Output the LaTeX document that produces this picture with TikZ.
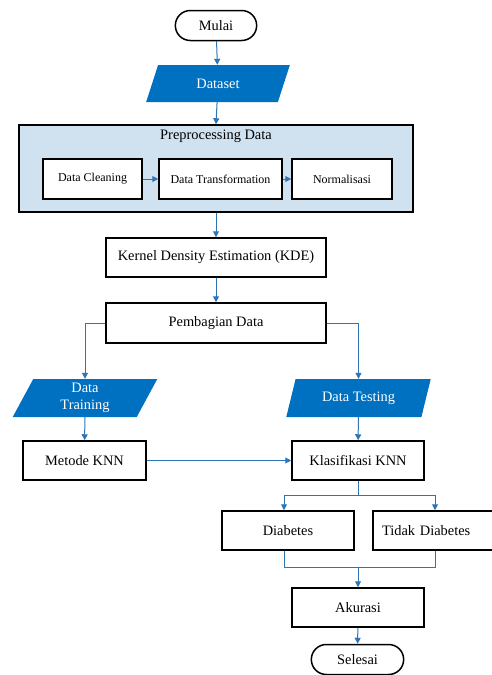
\documentclass[tikz,border=0pt]{standalone}
\usepackage{fontspec}
\setmainfont{Liberation Serif}
\usepackage{tikz}
\usetikzlibrary{arrows.meta,positioning,shapes.geometric,shapes.misc}

\definecolor{flowblue}{RGB}{0,112,192}
\definecolor{lineblue}{RGB}{46,117,182}
\definecolor{prepfill}{RGB}{208,226,240}

\tikzset{
  procbox/.style={draw=black, line width=1.5pt, fill=white, minimum height=39pt, inner sep=2pt},
  subbox/.style={procbox, minimum height=40pt, font=\fontsize{12}{14}\selectfont},
  termbox/.style={draw=black, line width=1.5pt, fill=white, rounded rectangle, minimum height=30pt},
  iobox/.style={trapezium, trapezium left angle=73, trapezium right angle=107, trapezium stretches=true,
    fill=flowblue, text=white, minimum height=38pt, minimum width=145pt, align=center},
  flow/.style={draw=lineblue, line width=1pt, -{Triangle[length=6pt,width=6pt]}},
  joinline/.style={draw=lineblue, line width=1pt}
}

\begin{document}
\begin{tikzpicture}[x=1pt,y=-1pt,font=\fontsize{14.4}{17}\selectfont]
\useasboundingbox (0,0) rectangle (492,675);

% start and input
\node[termbox, minimum width=88pt] (mulai) at (216,25.5) {Mulai};
\node[iobox, minimum width=144pt, minimum height=37pt] (dataset) at (218,83.5) {Dataset};

% preprocessing group
\node[draw=black, line width=1.5pt, fill=prepfill, minimum width=394pt, minimum height=87pt] (prep) at (216,168.5) {};
\node (preptitle) at (216,136) {Preprocessing Data};
\node[subbox, minimum width=99pt] (clean) at (92.5,179) {Data Cleaning};
\node[subbox, minimum width=123pt] (trans) at (220.5,179) {Data Transformation};
\node[subbox, minimum width=100pt] (norm) at (342,179) {Normalisasi};

\node[procbox, minimum width=220pt] (kde) at (216,257.5) {Kernel Density Estimation (KDE)};
\node[procbox, minimum width=220pt, minimum height=40pt] (bagi) at (216,323) {Pembagian Data};

% split
\node[iobox] (train) at (85,398) {Data\\Training};
\node[iobox] (test) at (358.5,398) {Data Testing};
\node[procbox, minimum width=123pt] (metode) at (84.5,460.5) {Metode KNN};
\node[procbox, minimum width=132pt] (klas) at (358,460.5) {Klasifikasi KNN};

% result
\node[procbox, minimum width=132pt] (diab) at (288,530.5) {Diabetes};
\node[procbox, minimum width=127pt, text width=119pt, align=left] (tidak) at (436.5,530.5) {\hspace*{5pt}Tidak Diabetes};
\node[procbox, minimum width=132pt] (akur) at (358,607.5) {Akurasi};
\node[termbox, minimum width=99pt] (selesai) at (357.5,659.5) {Selesai};

\coordinate (split) at (358,495);
\coordinate (merge) at (358,567);

\draw[flow] (mulai) -- (dataset);
\draw[flow] (dataset) -- (prep.north);
\draw[flow] (clean) -- (trans);
\draw[flow] (trans) -- (norm);
\draw[flow] (prep.south) -- (kde);
\draw[flow] (kde) -- (bagi);
\draw[flow] (bagi.west) -| (train.north);
\draw[flow] (bagi.east) -| (test.north);
\draw[flow] (train) -- (metode);
\draw[flow] (test) -- (klas);
\draw[flow] (metode) -- (klas);
\draw[joinline] (klas.south) -- (split);
\draw[flow] (split) -| ([xshift=-4pt]diab.north);
\draw[flow] (split) -| ([xshift=-1.5pt]tidak.north);
\draw[joinline] ([xshift=-4pt]diab.south) |- (merge);
\draw[joinline] ([xshift=-1.5pt]tidak.south) |- (merge);
\draw[flow] (merge) -- (akur);
\draw[flow] (akur) -- (selesai);
\end{tikzpicture}
\end{document}
